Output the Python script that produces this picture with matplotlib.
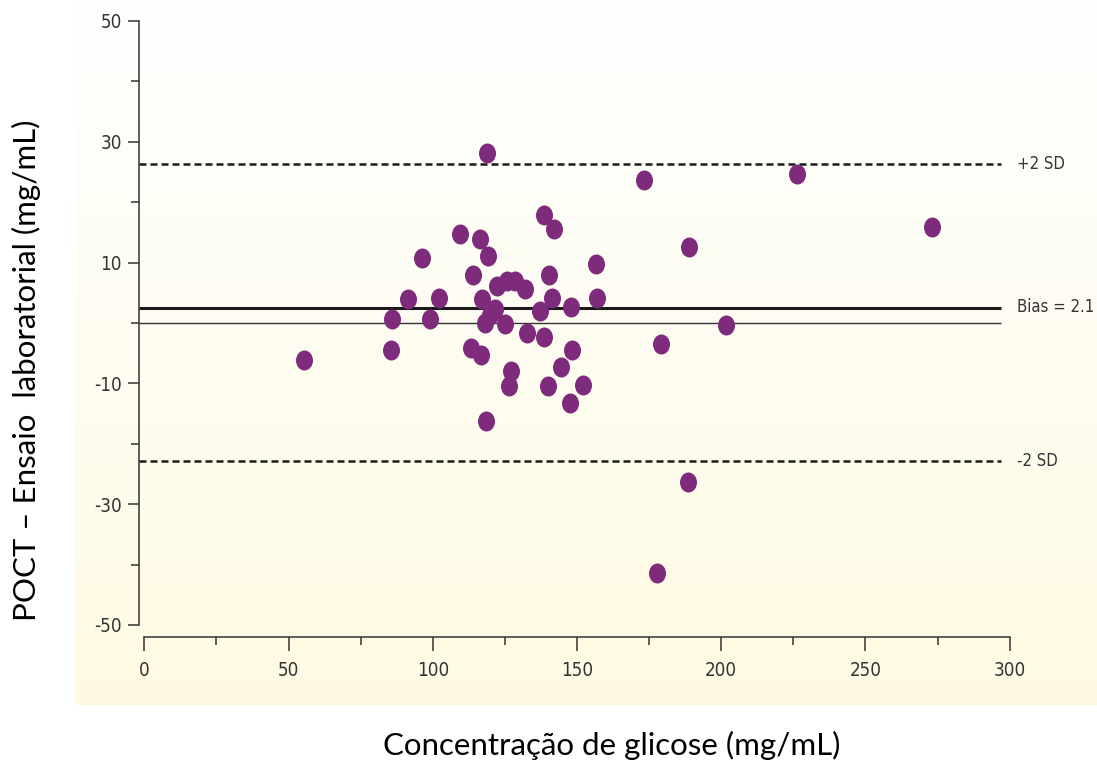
import numpy as np
import matplotlib as mpl
import matplotlib.pyplot as plt
from matplotlib.markers import MarkerStyle
from matplotlib.transforms import Affine2D
from matplotlib.colors import LinearSegmentedColormap

mpl.rcParams['font.family'] = ['DejaVu Sans']
mpl.rcParams['font.stretch'] = 'condensed'
mpl.rcParams['axes.unicode_minus'] = False

# mean concentration vs difference (POCT - lab)
conc = [118.7, 138.6, 141.9, 109.5, 116.3, 119.3, 96.2, 156.5, 114.1, 140.3,
        122.2, 125.7, 128.5, 132.0, 91.4, 102.3, 117.1, 141.4, 157.1, 148.0,
        137.1, 121.6, 85.8, 99.0, 118.1, 125.2, 132.5, 138.5, 85.4, 113.4,
        116.7, 148.4, 55.5, 144.5, 127.1, 126.6, 140.0, 152.2, 147.6, 118.5,
        173.4, 226.2, 273.2, 188.9, 201.6, 179.2, 188.4, 177.9, 120.0]
diff = [28.1, 17.8, 15.5, 14.7, 13.9, 11.1, 10.8, 9.8, 7.9, 7.9,
        6.1, 7.0, 7.0, 5.7, 4.0, 4.2, 4.0, 4.1, 4.1, 2.7,
        2.0, 2.3, 0.7, 0.7, 0.0, -0.2, -1.6, -2.3, -4.4, -4.2,
        -5.3, -4.5, -6.1, -7.3, -8.0, -10.4, -10.4, -10.3, -13.2, -16.3,
        23.6, 24.6, 15.9, 12.6, -0.3, -3.5, -26.4, -41.4, 1.4]

bias = 2.5
upper_sd = 26.3
lower_sd = -22.8
bias_label = 'Bias = 2.1'

yticks_major = [50, 30, 10, -10, -30, -50]
yticks_minor = [40, 20, 0, -20, -40]
xticks_major = [0, 50, 100, 150, 200, 250, 300]
xticks_minor = [25, 75, 125, 175, 225, 275]

fig = plt.figure(figsize=(10.97, 7.63), dpi=100)

# pale yellow gradient panel behind the plot
bg = fig.add_axes([75/1097, 1 - 705/763, 1 - 75/1097, 705/763])
cmap = LinearSegmentedColormap.from_list('bg', ['#ffffff', '#fefae2'])
bg.imshow(np.linspace(0, 1, 256).reshape(-1, 1), aspect='auto', cmap=cmap,
          extent=[0, 1, 0, 1], origin='upper')
bg.axis('off')

ax = fig.add_axes([138.7/1097, 1 - 637/763, (1009.7 - 138.7)/1097, (637 - 21)/763])
ax.set_facecolor('none')

purple = '#7d2b7a'
mk = MarkerStyle('o', transform=Affine2D().scale(0.85, 1.0))
ax.plot(conc, diff, linestyle='none', marker=mk, markersize=14.4,
        color=purple, markeredgewidth=0, zorder=3)

x0, x1 = -1.94, 297
ax.hlines([upper_sd, lower_sd], x0, x1, colors='#1a1a1a', linewidth=1.8,
          linestyles=(0, (2.8, 1.6)), zorder=2)
ax.hlines(bias, x0, x1, colors='#1a1a1a', linewidth=2.2, zorder=2)
ax.hlines(0, x0, x1, colors='#333333', linewidth=1.0, zorder=2)

txt = dict(fontsize=12, color='#333333', va='center', ha='left', clip_on=False)
ax.text(302.5, upper_sd, '+2 SD', **txt)
ax.text(302.5, bias + 0.2, bias_label, **txt)
ax.text(302.5, lower_sd, '-2 SD', **txt)

ax.set_xlim(x0, 300)
ax.set_ylim(-52, 50)
for s in ['top', 'right']:
    ax.spines[s].set_visible(False)
ax.spines['left'].set_bounds(-50, 50)
ax.spines['bottom'].set_bounds(0, 300)
for s in ['left', 'bottom']:
    ax.spines[s].set_color('#333333')
    ax.spines[s].set_linewidth(1.1)

ax.set_yticks(yticks_major)
ax.set_yticks(yticks_minor, minor=True)
ax.set_xticks(xticks_major)
ax.set_xticks(xticks_minor, minor=True)
ax.tick_params(axis='y', which='major', length=8, width=1.1, color='#333333',
               labelsize=13.5, labelcolor='#333333', pad=4)
ax.tick_params(axis='y', which='minor', length=5.5, width=1.1, color='#333333')
ax.tick_params(axis='x', which='major', length=10, width=1.1, color='#333333',
               labelsize=13.5, labelcolor='#333333', pad=7)
ax.tick_params(axis='x', which='minor', length=5.5, width=1.1, color='#333333')

fig.text(612/1097, 1 - 745/763, 'Concentração de glicose (mg/mL)', family='Lato',
         stretch='normal', fontsize=22.5, ha='center', va='center', color='black')
fig.text(26/1097, 1 - 370/763, 'POCT – Ensaio  laboratorial (mg/mL)', family='Lato',
         stretch='normal', fontsize=22.5, ha='center', va='center', rotation=90,
         color='black')

fig.savefig('out.png', dpi=100)
